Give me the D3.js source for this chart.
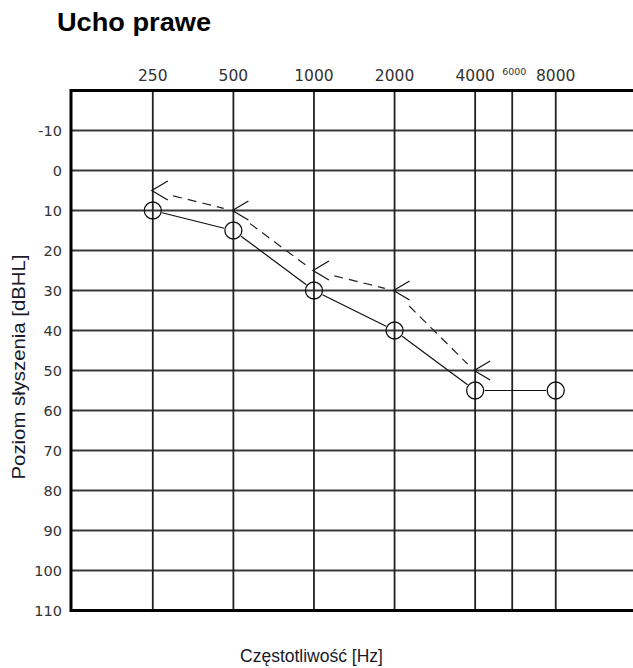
<!DOCTYPE html>
<html>
<head>
<meta charset="utf-8">
<script src="https://cdn.jsdelivr.net/npm/d3@7"></script>
<style>
  html, body { margin: 0; padding: 0; background: #fff; }
  svg { display: block; }
</style>
</head>
<body>
<svg id="chart" width="633" height="668"></svg>
<script>
// ---- data ----
const freqs = [250, 500, 1000, 2000, 4000, 6000, 8000];
const freqLabels = ["250", "500", "1000", "2000", "4000", "6000", "8000"];
const dbTicks = [-10, 0, 10, 20, 30, 40, 50, 60, 70, 80, 90, 100, 110];
const airFreqs = [250, 500, 1000, 2000, 4000, 8000];
const airValues = [10, 15, 30, 40, 55, 55];
const boneFreqs = [250, 500, 1000, 2000, 4000];
const boneValues = [5, 10, 25, 30, 50];

const titleText = "Ucho prawe";
const xTitle = "Częstotliwość [Hz]";
const yTitle = "Poziom słyszenia [dBHL]";

// ---- layout ----
const svg = d3.select("#chart");
const pL = 71, pR = 646, pT = 90.5, pB = 610.5;

// audiogram: octave positions, 6000 Hz drawn as an intermediate line
const octave = f => f === 6000 ? 4.46 : Math.log2(f / 250);
const xo = d3.scaleLinear().domain([-1.015, 6.12]).range([pL, pR]);
const x = f => xo(octave(f));
const y = d3.scaleLinear().domain([-20, 110]).range([pT, pB]);

// title
svg.append("text").attr("x", 57).attr("y", 31)
  .attr("font-family", "Liberation Sans, Arial, sans-serif")
  .attr("font-weight", "bold").attr("font-size", 25).attr("fill", "#000")
  .attr("textLength", 154).attr("lengthAdjust", "spacingAndGlyphs")
  .text(titleText);

const g = svg.append("g");

// horizontal grid lines
g.selectAll("line.h").data(dbTicks.filter(d => d < 110)).enter().append("line")
  .attr("class", "h")
  .attr("x1", pL).attr("x2", pR)
  .attr("y1", d => y(d)).attr("y2", d => y(d))
  .attr("stroke", "#3a3a3a").attr("stroke-width", 2);

// vertical grid lines
g.selectAll("line.v").data(freqs).enter().append("line")
  .attr("class", "v")
  .attr("x1", d => x(d)).attr("x2", d => x(d))
  .attr("y1", pT).attr("y2", pB)
  .attr("stroke", "#222").attr("stroke-width", 1.8);

// frame
g.append("path")
  .attr("d", `M${pR},${pT}H${pL}V${pB}H${pR}`)
  .attr("fill", "none").attr("stroke", "#000").attr("stroke-width", 3);

// frequency labels (top)
g.selectAll("text.f").data(freqs).enter().append("text")
  .attr("class", "f")
  .attr("x", d => x(d) + (d === 6000 ? 2 : 0))
  .attr("y", d => d === 6000 ? 75 : 81)
  .attr("text-anchor", "middle")
  .attr("font-family", "DejaVu Sans, Verdana, sans-serif")
  .attr("font-size", d => d === 6000 ? 9.5 : 15.5)
  .attr("fill", "#333")
  .text((d, i) => freqLabels[i]);

// dB labels (left)
g.selectAll("text.db").data(dbTicks).enter().append("text")
  .attr("class", "db")
  .attr("x", 62)
  .attr("y", d => y(d))
  .attr("dy", "0.36em")
  .attr("text-anchor", "end")
  .attr("font-family", "DejaVu Sans, Verdana, sans-serif")
  .attr("font-size", 14.5)
  .attr("fill", "#333")
  .text(d => d);

// axis titles
svg.append("text")
  .attr("transform", `translate(25,367) rotate(-90)`)
  .attr("text-anchor", "middle")
  .attr("font-family", "Liberation Sans, Arial, sans-serif")
  .attr("font-size", 19).attr("fill", "#1a1a2a")
  .attr("textLength", 225).attr("lengthAdjust", "spacingAndGlyphs")
  .text(yTitle);

svg.append("text")
  .attr("x", 311.5).attr("y", 662)
  .attr("text-anchor", "middle")
  .attr("font-family", "Liberation Sans, Arial, sans-serif")
  .attr("font-size", 17.5).attr("fill", "#1a1a2a")
  .text(xTitle);

// ---- air conduction (circles, solid line) ----
const r = 8.5;
const air = airFreqs.map((f, i) => ({ x: x(f), y: y(airValues[i]) }));
const airSegs = d3.pairs(air).map(([a, b]) => {
  const dx = b.x - a.x, dy = b.y - a.y, len = Math.hypot(dx, dy);
  const ux = dx / len, uy = dy / len;
  return [a.x + ux * (r + 1), a.y + uy * (r + 1), b.x - ux * (r + 1), b.y - uy * (r + 1)];
});
g.selectAll("line.air").data(airSegs).enter().append("line")
  .attr("class", "air")
  .attr("x1", d => d[0]).attr("y1", d => d[1])
  .attr("x2", d => d[2]).attr("y2", d => d[3])
  .attr("stroke", "#111").attr("stroke-width", 1.2);
g.selectAll("circle.air").data(air).enter().append("circle")
  .attr("class", "air")
  .attr("cx", d => d.x).attr("cy", d => d.y).attr("r", r)
  .attr("fill", "none").attr("stroke", "#111").attr("stroke-width", 1.3);

// ---- bone conduction ("<" markers, dashed line) ----
const bone = boneFreqs.map((f, i) => ({ x: x(f) - 1, y: y(boneValues[i]) }));
const boneSegs = d3.pairs(bone).map(([a, b]) => {
  const dx = b.x - a.x, dy = b.y - a.y, len = Math.hypot(dx, dy);
  const ux = dx / len, uy = dy / len;
  return [a.x + ux * 22, a.y + uy * 22, b.x - ux * 9, b.y - uy * 9];
});
g.selectAll("line.bone").data(boneSegs).enter().append("line")
  .attr("class", "bone")
  .attr("x1", d => d[0]).attr("y1", d => d[1])
  .attr("x2", d => d[2]).attr("y2", d => d[3])
  .attr("stroke", "#222").attr("stroke-width", 1.2)
  .attr("stroke-dasharray", "9,6");
g.selectAll("path.bone").data(bone).enter().append("path")
  .attr("class", "bone")
  .attr("d", d => `M${d.x + 16},${d.y - 9.5}L${d.x},${d.y}L${d.x + 16},${d.y + 9.5}`)
  .attr("fill", "none").attr("stroke", "#111").attr("stroke-width", 1.2);
</script>
</body>
</html>
